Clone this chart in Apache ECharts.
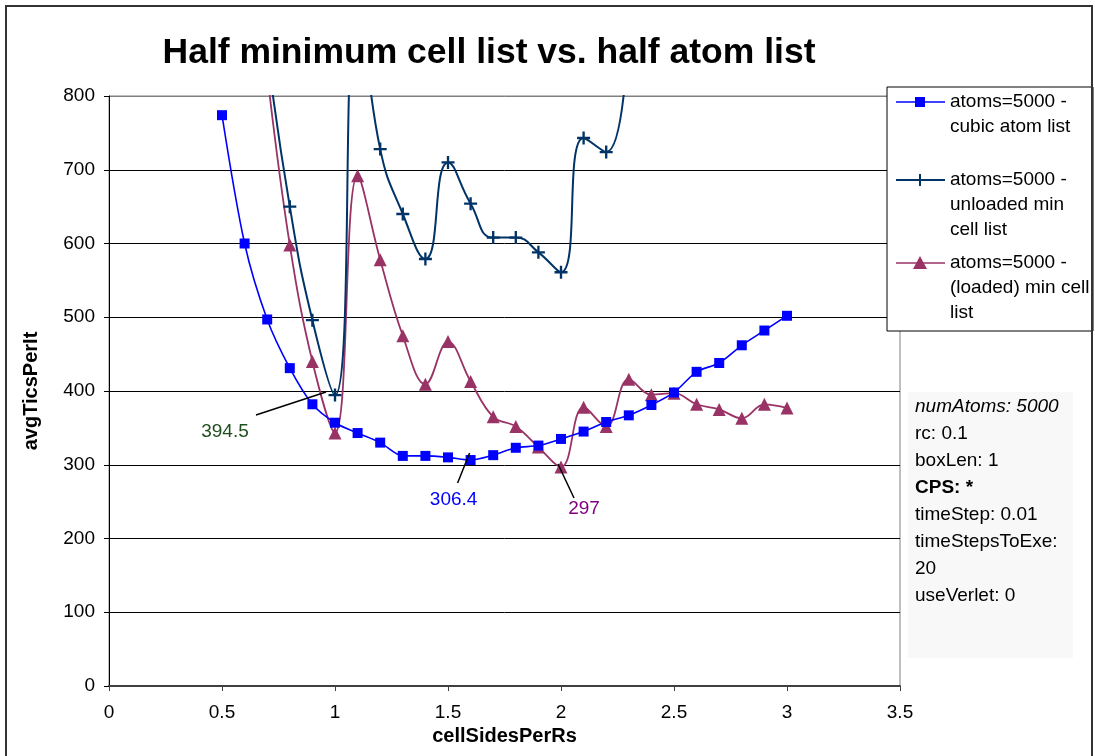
<!DOCTYPE html>
<html>
<head>
<meta charset="utf-8">
<script src="https://cdn.jsdelivr.net/npm/echarts@6/dist/echarts.min.js"></script>
<style>
html,body{margin:0;padding:0;background:#fff;}
#chart{width:1095px;height:756px;}
</style>
</head>
<body>
<div id="chart"></div>
<script>
// ---- data ----
const xTicks = [0, 0.5, 1, 1.5, 2, 2.5, 3, 3.5];
const yTicks = [0, 100, 200, 300, 400, 500, 600, 700, 800];

const cubicX = [0.5,0.6,0.7,0.8,0.9,1.0,1.1,1.2,1.3,1.4,1.5,1.6,1.7,1.8,1.9,2.0,2.1,2.2,2.3,2.4,2.5,2.6,2.7,2.8,2.9,3.0];
const cubicY = [774,600,497,431,382,357,343,330,312,312,310,306.4,313,323,326,335,345,358,367,381,398,426,438,462,482,502];

const unloadedX = [0.7,0.8,0.9,1.0,1.1,1.2,1.3,1.4,1.5,1.6,1.7,1.8,1.9,2.0,2.1,2.2,2.3];
const unloadedY = [860,650,496,394.5,930,728,640,579,710,654,608,608,588,561,743,724,900];

const loadedX = [0.7,0.8,0.9,1.0,1.1,1.2,1.3,1.4,1.5,1.6,1.7,1.8,1.9,2.0,2.1,2.2,2.3,2.4,2.5,2.6,2.7,2.8,2.9,3.0];
const loadedY = [830,598,440,343,692,578,475,409,467,413,365,352,324,297,378,352,416,395,397,382,375,363,382,377];

const seriesNames = ['atoms=5000 -\ncubic atom list', 'atoms=5000 -\nunloaded min\ncell list', 'atoms=5000 -\n(loaded) min cell\nlist'];
const infoLines = ['numAtoms: 5000', 'rc: 0.1', 'boxLen: 1', 'CPS: *', 'timeStep: 0.01', 'timeStepsToExe:', '20', 'useVerlet: 0'];
const annotations = [
  {series: 1, x: 1.0, y: 394.5, text: '394.5', color: '#1f4f1f'},
  {series: 0, x: 1.6, y: 306.4, text: '306.4', color: '#0000ff'},
  {series: 2, x: 2.0, y: 297, text: '297', color: '#800080'}
];

const FONT = '"Liberation Sans", Arial, sans-serif';
const colors = ['#0000ff', '#003366', '#993366'];
const crossPath = 'path://M4.1,0 h1.8 v4.1 h4.1 v1.8 h-4.1 v4.1 h-1.8 v-4.1 h-4.1 v-1.8 h4.1 z';

const chart = echarts.init(document.getElementById('chart'));

function pairs(xs, ys){ return xs.map((x,i)=>[x, ys[i]]); }

const option = {
  backgroundColor: '#fff',
  animation: false,
  title: {
    text: 'Half minimum cell list vs. half atom list',
    left: 484, top: 30, textAlign: 'center',
    textStyle: {fontFamily: FONT, fontSize: 35.5, fontWeight: 'bold', color: '#000'}
  },
  grid: {left: 109, top: 96, right: 195, bottom: 70, show: true, borderColor: '#808080', borderWidth: 1, backgroundColor: 'transparent'},
  xAxis: {
    type: 'value', min: 0, max: 3.5, interval: 0.5,
    name: 'cellSidesPerRs', nameLocation: 'middle', nameGap: 40,
    nameTextStyle: {fontFamily: FONT, fontSize: 20, fontWeight: 'bold', color: '#000'},
    axisLine: {show: true, lineStyle: {color: '#404040', width: 2}},
    axisTick: {show: true, length: 5, lineStyle: {color: '#404040', width: 1}},
    axisLabel: {fontFamily: FONT, fontSize: 19, color: '#000', margin: 17,
      formatter: v => { const t = xTicks.find(k => Math.abs(k - v) < 1e-9); return t === undefined ? '' : String(t); }},
    splitLine: {show: false}
  },
  yAxis: {
    type: 'value', min: 0, max: 800, interval: 100,
    name: 'avgTicsPerIt', nameLocation: 'middle', nameGap: 68, nameRotate: 90,
    nameTextStyle: {fontFamily: FONT, fontSize: 20, fontWeight: 'bold', color: '#000'},
    axisLine: {show: true, lineStyle: {color: '#000', width: 1}},
    axisTick: {show: true, length: 5, lineStyle: {color: '#000', width: 1}},
    axisLabel: {fontFamily: FONT, fontSize: 19, color: '#000', margin: 14,
      formatter: v => { const t = yTicks.find(k => k === v); return t === undefined ? '' : String(t); }},
    splitLine: {show: true, lineStyle: {color: ['#000','#000','#000','#000','#000','#000','#000','#000','#808080'], width: 1}}
  },
  series: [
    {
      name: seriesNames[0], type: 'line', data: pairs(cubicX, cubicY),
      smooth: 0.3, symbol: 'rect', symbolSize: 10, showAllSymbol: true,
      itemStyle: {color: colors[0]}, lineStyle: {color: colors[0], width: 1.6}, z: 4
    },
    {
      name: seriesNames[1], type: 'line', data: pairs(unloadedX, unloadedY),
      smooth: 0.5, symbol: crossPath, symbolSize: 13, showAllSymbol: true,
      itemStyle: {color: colors[1]}, lineStyle: {color: colors[1], width: 2}, z: 3
    },
    {
      name: seriesNames[2], type: 'line', data: pairs(loadedX, loadedY),
      smooth: 0.4, symbol: 'triangle', symbolSize: 13, showAllSymbol: true,
      itemStyle: {color: colors[2]}, lineStyle: {color: colors[2], width: 1.8}, z: 2
    }
  ]
};
chart.setOption(option);

// ---- overlay graphics: legend, info box, annotations, outer border ----
const g = [];
g.push({type: 'rect', shape: {x: 6, y: 6, width: 1086, height: 770}, style: {fill: null, stroke: '#333', lineWidth: 2}, z: 100, silent: true});

const legendItems = [
  {y: 102, lines: seriesNames[0].split('\n'), symbol: 'rect'},
  {y: 180, lines: seriesNames[1].split('\n'), symbol: 'cross'},
  {y: 263, lines: seriesNames[2].split('\n'), symbol: 'tri'}
];
const legendChildren = [{type: 'rect', shape: {x: 887, y: 87, width: 206, height: 244}, style: {fill: '#fff', stroke: '#000', lineWidth: 1}}];
legendItems.forEach((it, i) => {
  legendChildren.push({type: 'line', shape: {x1: 896, y1: it.y, x2: 945, y2: it.y}, style: {stroke: colors[i], lineWidth: i === 1 ? 2 : 1.6}});
  if (it.symbol === 'rect') legendChildren.push({type: 'rect', shape: {x: 915, y: it.y - 5, width: 10, height: 10}, style: {fill: colors[i]}});
  if (it.symbol === 'cross') legendChildren.push({type: 'line', shape: {x1: 920, y1: it.y - 6, x2: 920, y2: it.y + 6}, style: {stroke: colors[i], lineWidth: 2}});
  if (it.symbol === 'tri') legendChildren.push({type: 'polygon', shape: {points: [[920, it.y - 7], [913, it.y + 6], [927, it.y + 6]]}, style: {fill: colors[i]}});
  it.lines.forEach((ln, j) => {
    legendChildren.push({type: 'text', style: {text: ln, x: 950, y: it.y + j * 25, textVerticalAlign: 'middle', verticalAlign: 'middle', fontFamily: FONT, fontSize: 19, fill: '#000'}});
  });
});
g.push({type: 'group', z: 90, children: legendChildren});

const infoChildren = [{type: 'rect', shape: {x: 908, y: 392, width: 165, height: 266}, style: {fill: '#f8f8f8'}}];
infoLines.forEach((ln, j) => {
  infoChildren.push({type: 'text', style: {
    text: ln, x: 915, y: 407 + j * 27, verticalAlign: 'middle', textVerticalAlign: 'middle',
    fontFamily: FONT, fontSize: 19, fill: '#000',
    fontStyle: j === 0 ? 'italic' : 'normal', fontWeight: j === 3 ? 'bold' : 'normal'
  }});
});
g.push({type: 'group', z: 90, children: infoChildren});

const offsets = [
  {l1: [-9, -3], l2: [-79, 20], t: [-110, 37]},
  {l1: [-1, -7], l2: [-13, 23], t: [-17, 40]},
  {l1: [-3, -3], l2: [13, 31], t: [23, 42]}
];
annotations.forEach((a, i) => {
  const p = chart.convertToPixel({seriesIndex: a.series}, [a.x, a.y]);
  const o = offsets[i];
  g.push({type: 'line', shape: {x1: p[0] + o.l1[0], y1: p[1] + o.l1[1], x2: p[0] + o.l2[0], y2: p[1] + o.l2[1]}, style: {stroke: '#000', lineWidth: 1.5}, z: 50});
  g.push({type: 'text', style: {text: a.text, x: p[0] + o.t[0], y: p[1] + o.t[1], align: 'center', verticalAlign: 'middle', textAlign: 'center', textVerticalAlign: 'middle', fontFamily: FONT, fontSize: 19, fill: a.color}, z: 50});
});

chart.setOption({graphic: g});
</script>
</body>
</html>
